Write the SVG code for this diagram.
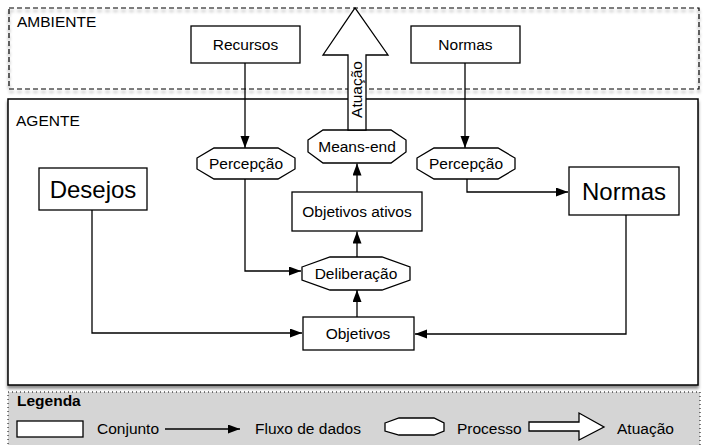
<svg xmlns="http://www.w3.org/2000/svg" width="704" height="445" viewBox="0 0 704 445">
<style>
  text { font-family: "Liberation Sans", Arial, sans-serif; font-size: 15.5px; fill: #000; }
  .big { font-size: 24px; }
  .bold { font-weight: bold; }
  .box { fill: #fff; stroke: #000; stroke-width: 1.3; }
  .conn { fill: none; stroke: #000; stroke-width: 1.3; }
</style>
<defs>
  <marker id="arr" markerUnits="userSpaceOnUse" markerWidth="13" markerHeight="10" refX="12" refY="4.5" orient="auto">
    <path d="M0,0 L12,4.5 L0,9 z" fill="#000"/>
  </marker>
  <filter id="sh" x="-5%" y="-10%" width="110%" height="130%">
    <feDropShadow dx="0" dy="3" stdDeviation="1.5" flood-color="#000" flood-opacity="0.45"/>
  </filter>
</defs>

<g id="ambiente">
  <rect x="9" y="8" width="690" height="81" fill="none" stroke="#000" stroke-width="1.2" stroke-dasharray="5,3" filter="url(#sh)"/>
  <text x="17" y="27">AMBIENTE</text>
</g>

<g id="agente">
  <rect x="8" y="99" width="690" height="286" fill="#fff" stroke="#000" stroke-width="1.5" filter="url(#sh)"/>
  <text x="16" y="126">AGENTE</text>
</g>

<g id="legenda">
  <rect x="8" y="392" width="692" height="60" fill="#d5d5d5" stroke="#000" stroke-width="1" stroke-dasharray="1,3"/>
  <text class="bold" x="17" y="406">Legenda</text>
  <rect x="17" y="421" width="66" height="16" class="box"/>
  <text x="97" y="434">Conjunto</text>
  <line x1="165" y1="429" x2="240" y2="429" class="conn" marker-end="url(#arr)"/>
  <text x="255" y="434">Fluxo de dados</text>
  <polygon points="385,423 399,418 434,418 444,423 444,431 434,435 399,435 385,431" class="box"/>
  <text x="457" y="434">Processo</text>
  <polygon points="529,422 579,422 579,413 604,427 579,440 579,431 529,431" class="box"/>
  <text x="617" y="434">Atuação</text>
</g>

<g id="recursos">
  <rect x="191" y="26" width="109" height="37" class="box"/>
  <text x="245.5" y="50" text-anchor="middle">Recursos</text>
</g>

<g id="normas-ambiente">
  <rect x="411" y="26" width="109" height="37" class="box"/>
  <text x="465.5" y="50" text-anchor="middle">Normas</text>
</g>

<g id="percepcao-esq">
  <polygon points="197,158 214,148 278,148 295,158 295,169 278,179 214,179 197,169" class="box"/>
  <text x="246" y="169" text-anchor="middle">Percepção</text>
</g>

<g id="percepcao-dir">
  <polygon points="417,158 434,148 498,148 515,158 515,169 498,179 434,179 417,169" class="box"/>
  <text x="466" y="169" text-anchor="middle">Percepção</text>
</g>

<g id="means-end">
  <polygon points="308,140 323,130 391,130 406,140 406,152 391,163 323,163 308,152" class="box"/>
  <text x="357" y="152" text-anchor="middle">Means-end</text>
</g>

<g id="atuacao">
  <polygon points="348,130 348,55 323,55 355,8 388,55 366,55 366,130" class="box"/>
  <text transform="translate(362,89.5) rotate(-90)" text-anchor="middle">Atuação</text>
</g>

<g id="desejos">
  <rect x="39" y="168" width="108" height="42" class="box"/>
  <text class="big" x="93" y="197.5" text-anchor="middle">Desejos</text>
</g>

<g id="normas">
  <rect x="569" y="167" width="110" height="48" class="box"/>
  <text class="big" x="624" y="199.5" text-anchor="middle">Normas</text>
</g>

<g id="objetivos-ativos">
  <rect x="292" y="192" width="130" height="39" class="box"/>
  <text x="357" y="217" text-anchor="middle">Objetivos ativos</text>
</g>

<g id="deliberacao">
  <polygon points="302,267 330,257 382,257 410,267 410,280 382,290 330,290 302,280" class="box"/>
  <text x="356" y="279" text-anchor="middle">Deliberação</text>
</g>

<g id="objetivos">
  <rect x="303" y="317" width="111" height="33" class="box"/>
  <text x="358" y="339" text-anchor="middle">Objetivos</text>
</g>

<g id="connectors">
  <line x1="245" y1="63" x2="245" y2="148" class="conn" marker-end="url(#arr)"/>
  <line x1="465" y1="63" x2="465" y2="148" class="conn" marker-end="url(#arr)"/>
  <polyline points="245,179 245,271 301,271" class="conn" marker-end="url(#arr)"/>
  <polyline points="467,179 467,192 568,192" class="conn" marker-end="url(#arr)"/>
  <polyline points="92,210 92,333 302,333" class="conn" marker-end="url(#arr)"/>
  <polyline points="626,215 626,334 415,334" class="conn" marker-end="url(#arr)"/>
  <line x1="357" y1="317" x2="357" y2="290" class="conn" marker-end="url(#arr)"/>
  <line x1="357" y1="257" x2="357" y2="231.5" class="conn" marker-end="url(#arr)"/>
  <line x1="357" y1="192" x2="357" y2="163.5" class="conn" marker-end="url(#arr)"/>
</g>
</svg>
